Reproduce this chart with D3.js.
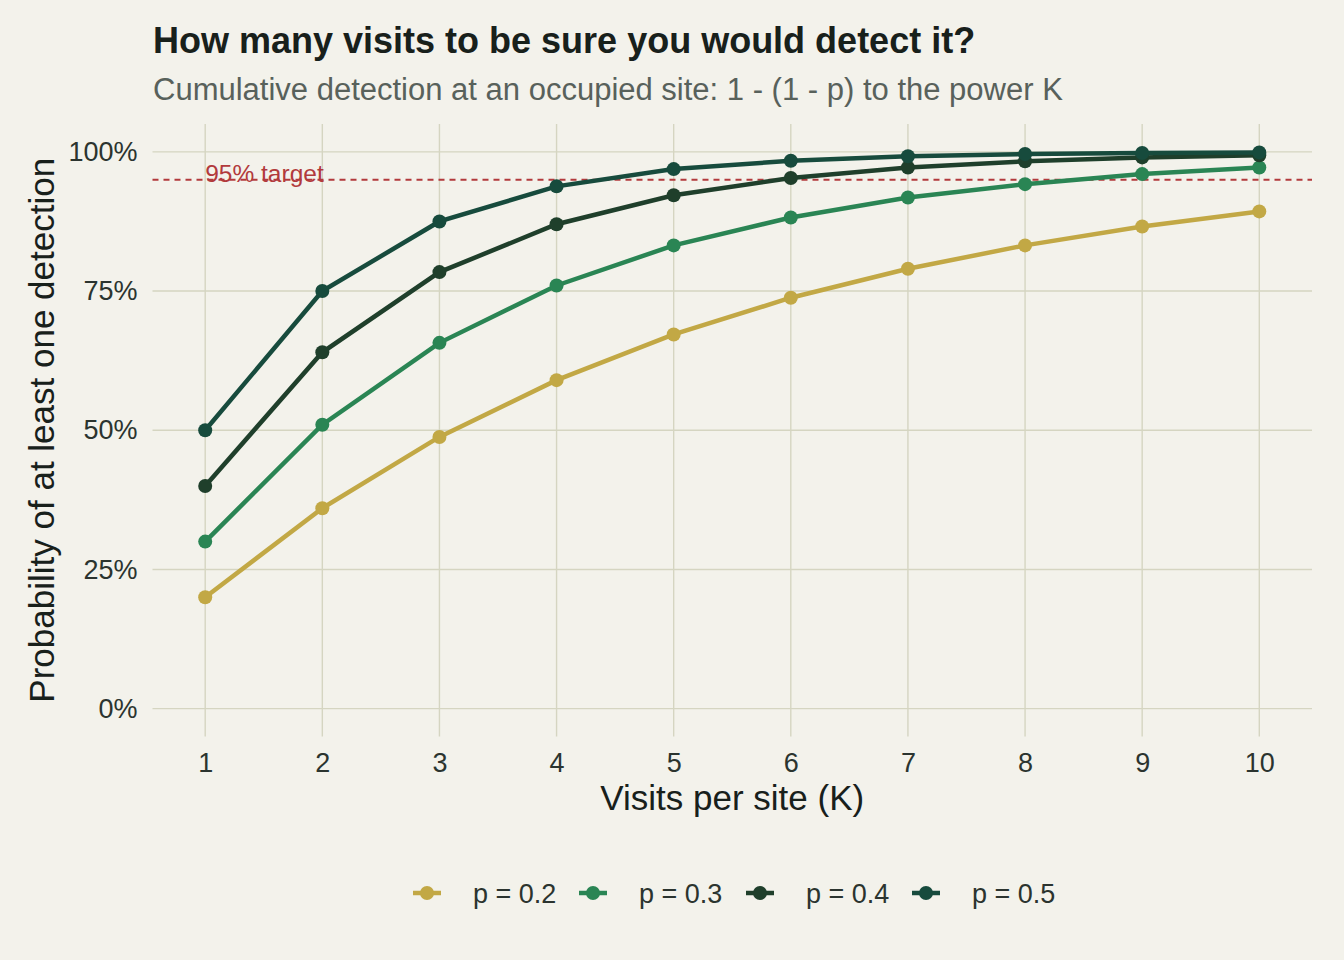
<!DOCTYPE html>
<html>
<head>
<meta charset="utf-8">
<script src="https://cdn.jsdelivr.net/npm/d3@7"></script>
<style>
  body { margin: 0; background: #f3f2eb; }
  svg text { font-family: "Liberation Sans", Arial, sans-serif; }
</style>
</head>
<body>
<svg id="chart" width="1344" height="960"></svg>
<script>
const visits = [1, 2, 3, 4, 5, 6, 7, 8, 9, 10];
const seriesNames = ["p = 0.2", "p = 0.3", "p = 0.4", "p = 0.5"];
const p02 = [0.200, 0.360, 0.488, 0.590, 0.672, 0.738, 0.790, 0.832, 0.866, 0.893];
const p03 = [0.300, 0.510, 0.657, 0.760, 0.832, 0.882, 0.918, 0.942, 0.960, 0.972];
const p04 = [0.400, 0.640, 0.784, 0.870, 0.922, 0.953, 0.972, 0.983, 0.990, 0.994];
const p05 = [0.500, 0.750, 0.875, 0.938, 0.969, 0.984, 0.992, 0.996, 0.998, 0.999];
const yTicks = [0, 0.25, 0.5, 0.75, 1];
const target = 0.95;
const colors = ["#c2a845", "#2a8554", "#1f3f2b", "#174b3d"];

const series = [p02, p03, p04, p05].map((vals, i) => ({
  name: seriesNames[i],
  color: colors[i],
  values: vals.map((v, j) => ({ k: visits[j], v }))
}));

const svg = d3.select("#chart");
svg.append("rect").attr("width", 1344).attr("height", 960).attr("fill", "#f3f2eb");

const x = d3.scaleLinear().domain([0.55, 10.45]).range([152.5, 1312]);
const y = d3.scaleLinear().domain([-0.05, 1.05]).range([736.5, 124]);

// grid
svg.append("g").selectAll("line").data(visits).enter().append("line")
  .attr("x1", d => x(d)).attr("x2", d => x(d))
  .attr("y1", y(1.05)).attr("y2", y(-0.05))
  .attr("stroke", "#d5d5c1").attr("stroke-width", 1.4);
svg.append("g").selectAll("line").data(yTicks).enter().append("line")
  .attr("x1", x(0.55)).attr("x2", x(10.45))
  .attr("y1", d => y(d)).attr("y2", d => y(d))
  .attr("stroke", "#d5d5c1").attr("stroke-width", 1.4);

// axes
const xAxis = svg.append("g")
  .attr("transform", `translate(0,${y(-0.05)})`)
  .call(d3.axisBottom(x).tickValues(visits).tickSize(0).tickPadding(16).tickFormat(d3.format("d")));
const yAxis = svg.append("g")
  .attr("transform", `translate(${x(0.55)},0)`)
  .call(d3.axisLeft(y).tickValues(yTicks).tickSize(0).tickPadding(15).tickFormat(d3.format(".0%")));
[xAxis, yAxis].forEach(a => {
  a.select(".domain").remove();
  a.selectAll("text").attr("font-size", 27).attr("fill", "#2b342f")
    .style("font-family", '"Liberation Sans", Arial, sans-serif');
});

// target line
svg.append("line")
  .attr("x1", x(0.55)).attr("x2", x(10.45))
  .attr("y1", y(target)).attr("y2", y(target))
  .attr("stroke", "#b23a3c").attr("stroke-width", 2).attr("stroke-dasharray", "6,5");
svg.append("text")
  .attr("x", x(1)).attr("y", y(target) + 2)
  .attr("font-size", 24.5).attr("fill", "#b23a3c")
  .text("95% target");

// lines
const line = d3.line().x(d => x(d.k)).y(d => y(d.v));
series.forEach(s => {
  svg.append("path").datum(s.values)
    .attr("fill", "none").attr("stroke", s.color).attr("stroke-width", 4.5)
    .attr("d", line);
  svg.append("g").selectAll("circle").data(s.values).enter().append("circle")
    .attr("cx", d => x(d.k)).attr("cy", d => y(d.v)).attr("r", 7)
    .attr("fill", s.color);
});

// titles
svg.append("text").attr("x", 153).attr("y", 53)
  .attr("font-size", 36).attr("font-weight", "bold").attr("fill", "#18201b")
  .text("How many visits to be sure you would detect it?");
svg.append("text").attr("x", 153).attr("y", 100)
  .attr("font-size", 31).attr("fill", "#58615b")
  .text("Cumulative detection at an occupied site: 1 - (1 - p) to the power K");
svg.append("text").attr("x", x(5.5)).attr("y", 810)
  .attr("text-anchor", "middle").attr("font-size", 35).attr("fill", "#18201b")
  .text("Visits per site (K)");
svg.append("text")
  .attr("transform", `translate(54,${y(0.5)}) rotate(-90)`)
  .attr("text-anchor", "middle").attr("font-size", 35).attr("fill", "#18201b")
  .text("Probability of at least one detection");

// legend
const legendX = [413, 579, 746, 912];
const legend = svg.append("g");
series.forEach((s, i) => {
  const g = legend.append("g").attr("transform", `translate(${legendX[i]},893)`);
  g.append("line").attr("x1", 0).attr("x2", 28).attr("y1", 0).attr("y2", 0)
    .attr("stroke", s.color).attr("stroke-width", 4.5);
  g.append("circle").attr("cx", 14).attr("cy", 0).attr("r", 7).attr("fill", s.color);
  g.append("text").attr("x", 60).attr("y", 9.5).attr("font-size", 27).attr("fill", "#2b342f")
    .text(s.name);
});
</script>
</body>
</html>
